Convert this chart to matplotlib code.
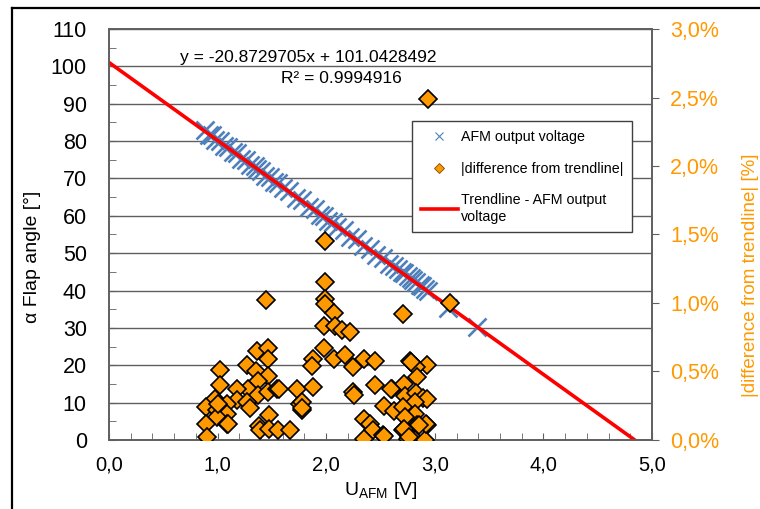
import matplotlib
matplotlib.use("Agg")
import numpy as np
import matplotlib.pyplot as plt
from matplotlib.ticker import MultipleLocator, FuncFormatter
from matplotlib.lines import Line2D

plt.rcParams['font.family'] = ['Liberation Sans', 'DejaVu Sans']
plt.rcParams['mathtext.fontset'] = 'custom'
plt.rcParams['mathtext.rm'] = 'Liberation Sans'

# AFM output voltage vs flap angle
afm_u = [0.88, 0.92, 0.95, 0.98, 1.02, 1.06, 1.10, 1.14, 1.18, 1.22, 1.26, 1.30,
         1.34, 1.36, 1.40, 1.44, 1.48, 1.52, 1.56, 1.60, 1.66, 1.72, 1.78, 1.84,
         1.90, 1.94, 1.98, 2.02, 2.06, 2.10, 2.16, 2.22, 2.28, 2.34, 2.40, 2.46,
         2.52, 2.58, 2.62, 2.66, 2.70, 2.72, 2.75, 2.78, 2.80, 2.83, 2.86, 2.88,
         2.91, 2.94, 3.12, 3.39]
afm_angle = [83.0, 81.5, 81.6, 80.2, 80.0, 78.6, 78.4, 77.0, 76.7, 75.3, 75.0, 73.7,
             73.4, 72.4, 72.1, 70.7, 70.5, 69.1, 68.8, 67.4, 66.7, 64.9, 64.1, 62.4,
             61.7, 60.2, 60.0, 58.6, 58.3, 57.0, 56.2, 54.4, 53.7, 51.9, 51.2, 49.5,
             48.7, 47.0, 46.7, 45.8, 44.9, 44.6, 43.9, 43.3, 42.9, 42.3, 41.6, 41.2,
             40.5, 39.9, 35.4, 30.2]

# |difference from trendline| in %
diff_u = [1.45, 1.36, 1.46, 1.46, 1.27, 1.35, 1.46, 1.02, 1.02, 1.37, 1.28, 1.18,
          1.37, 1.46, 1.55, 0.98, 0.89, 1.18, 1.27, 1.30, 1.09, 0.99, 1.09, 0.99,
          0.89, 1.09, 1.47, 1.38, 1.39, 1.47, 1.56, 0.90, 1.00, 1.10, 1.67, 1.78,
          1.76, 1.99, 1.99, 1.99, 1.99, 2.07, 1.98, 2.08, 2.15, 2.71, 3.14, 1.98,
          1.88, 1.87, 2.07, 2.17, 2.25, 2.35, 2.45, 2.77, 2.93, 2.83, 2.84, 1.57,
          1.73, 1.88, 1.78, 1.78, 2.25, 2.26, 2.45, 2.61, 2.72, 2.73, 2.83, 2.89,
          2.93, 2.82, 2.53, 2.62, 2.71, 2.82, 2.73, 2.35, 2.40, 2.84, 2.93, 2.43,
          2.52, 2.35, 2.71, 2.75, 2.82, 2.91, 2.94, 2.78, 2.60, 2.92, 2.85, 2.72,
          2.76, 2.53, 2.22]
diff_pct = [1.02, 0.65, 0.67, 0.59, 0.55, 0.50, 0.47, 0.51, 0.40, 0.43, 0.37, 0.37,
            0.33, 0.35, 0.37, 0.30, 0.24, 0.29, 0.28, 0.23, 0.26, 0.22, 0.19, 0.17,
            0.12, 0.12, 0.18, 0.10, 0.07, 0.08, 0.07, 0.02, 0.26, 0.12, 0.07, 0.22,
            0.26, 1.45, 1.15, 1.03, 0.99, 0.93, 0.83, 0.83, 0.80, 0.92, 1.00, 0.67,
            0.59, 0.54, 0.59, 0.62, 0.53, 0.59, 0.58, 0.58, 0.55, 0.53, 0.46, 0.37,
            0.37, 0.39, 0.28, 0.23, 0.35, 0.33, 0.40, 0.37, 0.41, 0.32, 0.34, 0.31,
            0.30, 0.28, 0.25, 0.21, 0.24, 0.19, 0.17, 0.15, 0.12, 0.11, 0.11, 0.07,
            0.04, 0.01, 0.07, 0.01, 0.00, 0.00, 2.49, 0.57, 0.37, 0.12, 0.11, 0.08,
            0.02, 0.03, 0.79]

# trendline y = slope * x + intercept
trend_slope = -20.8729705
trend_intercept = 101.0428492
trend_u = [0.0, 4.84]

orange = '#ff9900'
blue = '#4f81bd'
grid_col = '#5f5f5f'

fig = plt.figure(figsize=(7.6, 5.09), dpi=100)
ax = fig.add_axes([0.1434, 0.1356, 0.7145, 0.8074])
ax2 = ax.twinx()

trend_y = [trend_slope * u + trend_intercept for u in trend_u]
ax.plot(afm_u, afm_angle, 'x', color=blue, ms=13.5, mew=1.9, label='AFM output voltage', zorder=3)
ax.plot(trend_u, trend_y, color='#ff0000', lw=2.6, label='Trendline - AFM output\nvoltage', zorder=4)
ax2.plot(diff_u, diff_pct, 'D', color=orange, mec='black', mew=1.2, ms=9,
         label='|difference from trendline|', zorder=5)

ax.set_xlim(0, 5)
ax.set_ylim(0, 110)
ax2.set_ylim(0, 3.0)

ax.yaxis.set_major_locator(MultipleLocator(10))
ax.yaxis.set_minor_locator(MultipleLocator(5))
ax.xaxis.set_major_locator(MultipleLocator(1))
ax.xaxis.set_minor_locator(MultipleLocator(0.2))
ax2.yaxis.set_major_locator(MultipleLocator(0.5))

ax.grid(axis='y', which='major', color=grid_col, lw=1.0)
ax.set_axisbelow(True)

ax.xaxis.set_major_formatter(FuncFormatter(lambda v, p: f"{v:.1f}".replace('.', ',')))
ax2.yaxis.set_major_formatter(FuncFormatter(lambda v, p: f"{v:.1f}%".replace('.', ',')))

ax.tick_params(axis='x', which='both', direction='in', length=5, color=grid_col,
               labelsize=14.5, pad=11)
ax.tick_params(axis='y', which='both', direction='in', length=5, color=grid_col,
               labelsize=15.5, pad=16)
ax2.tick_params(axis='y', direction='out', length=5, color=grid_col,
                labelsize=15.5, labelcolor=orange, pad=8)

for a in (ax, ax2):
    for s in a.spines.values():
        s.set_color(grid_col)
        s.set_linewidth(1.2)

ax.set_ylabel('α Flap angle [°]', fontsize=14)
ax.yaxis.set_label_coords(-0.125, 0.445)
ax.set_xlabel('U$_{\\mathrm{AFM}}$ [V]', fontsize=14, labelpad=4)
ax2.set_ylabel('|difference from trendline| [%]', fontsize=13.5, color=orange)
ax2.yaxis.set_label_coords(1.165, 0.40)

ax.text(0.65, 102.5, 'y = -20.8729705x + 101.0428492', fontsize=12.5, va='center')
ax.text(2.14, 96.8, 'R² = 0.9994916', fontsize=12.5, va='center', ha='center')

handles = [
    Line2D([], [], ls='none', marker='x', color=blue, ms=6, mew=0.8),
    Line2D([], [], ls='none', marker='D', color=orange, mec='#7a4a00', mew=0.6, ms=5),
    Line2D([], [], color='#ff0000', lw=2.6),
]
labels = ['AFM output voltage', '|difference from trendline|', 'Trendline - AFM output\nvoltage']
leg = ax2.legend(handles, labels, loc='upper left', bbox_to_anchor=(0.558, 0.776),
                 borderaxespad=0, fontsize=10.3, frameon=True, fancybox=False,
                 edgecolor='#404040', framealpha=1, labelspacing=1.25,
                 handlelength=2.6, handletextpad=0.2, borderpad=0.6)
leg.get_frame().set_linewidth(1.0)

# outer frame of the figure
fig.add_artist(Line2D([0.0158, 0.0158], [0, 0.984], color='black', lw=1.6))
fig.add_artist(Line2D([0.0158, 1.0], [0.984, 0.984], color='black', lw=1.6))

fig.savefig('out.png', dpi=100)
